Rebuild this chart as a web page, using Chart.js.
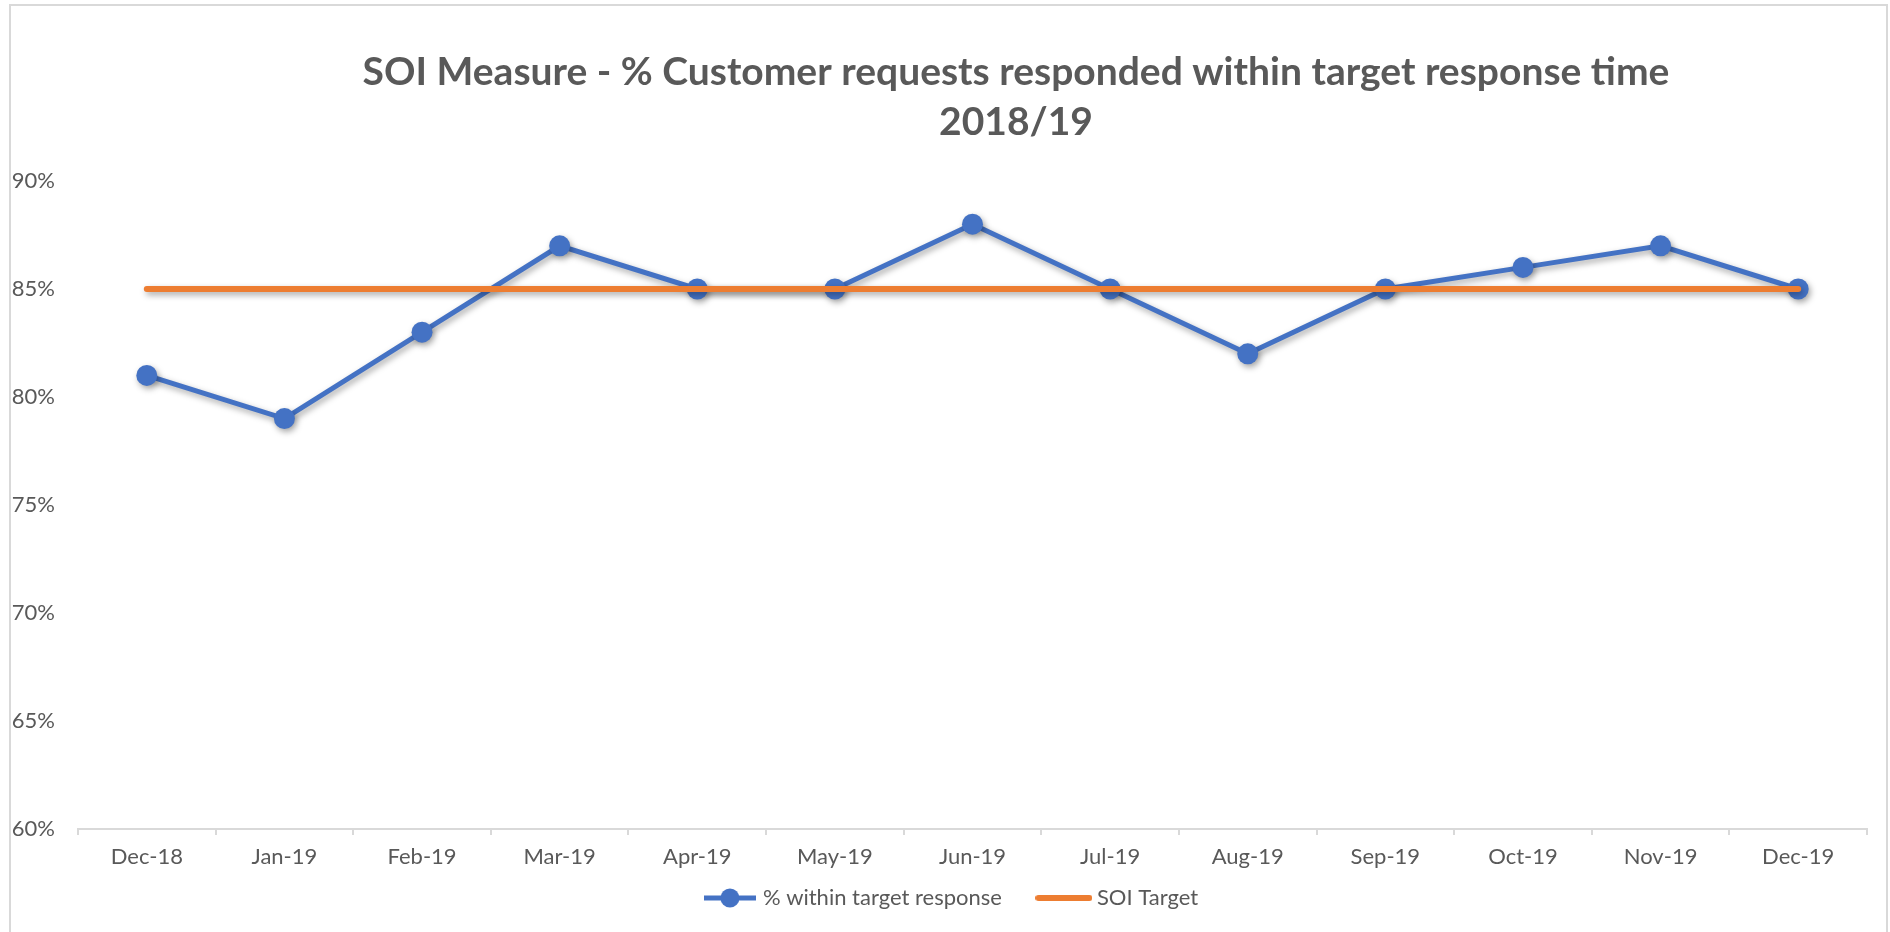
<!DOCTYPE html>
<html><head><meta charset="utf-8">
<script src="https://cdn.jsdelivr.net/npm/chart.js@4.4.0/dist/chart.umd.min.js"></script>
<style>html,body{margin:0;padding:0;background:#fff;overflow:hidden}</style>
</head><body>
<canvas id="c" width="1890" height="932"></canvas>
<script>
const categories = ['Dec-18','Jan-19','Feb-19','Mar-19','Apr-19','May-19','Jun-19','Jul-19','Aug-19','Sep-19','Oct-19','Nov-19','Dec-19'];
const withinTarget = [81,79,83,87,85,85,88,85,82,85,86,87,85];
const soiTarget = [85,85,85,85,85,85,85,85,85,85,85,85,85];
const yMin = 60, yMax = 90, yStep = 5;
const titleLines = ['SOI Measure - % Customer requests responded within target response time','2018/19'];
const seriesNames = ['% within target response','SOI Target'];

const BLUE = '#4472C4', ORANGE = '#ED7D31', TEXT = '#595959', AXIS = '#D9D9D9';
const FONT = 'Lato, Carlito, Calibri, sans-serif';

function legendImg(color, w, lw, dot) {
  const c = document.createElement('canvas');
  c.width = w; c.height = 22;
  const x = c.getContext('2d');
  x.strokeStyle = color; x.lineWidth = lw; x.lineCap = dot ? 'butt' : 'round';
  x.beginPath(); x.moveTo(dot ? 0 : lw/2, 11); x.lineTo(dot ? w : w - lw/2, 11); x.stroke();
  if (dot) { x.fillStyle = color; x.beginPath(); x.arc(w/2, 11, 9.5, 0, Math.PI*2); x.fill(); }
  return c;
}
const legendImgs = [legendImg(BLUE, 52, 5, true), legendImg(ORANGE, 57, 6, false)];

const frame = {
  id: 'frame',
  beforeDraw(chart) {
    const ctx = chart.ctx;
    ctx.save();
    ctx.fillStyle = '#fff';
    ctx.fillRect(0, 0, chart.width, chart.height);
    ctx.strokeStyle = AXIS; ctx.lineWidth = 2;
    ctx.strokeRect(10, 5, 1877, 1000);
    ctx.restore();
  },
  afterDraw(chart) {
    const ctx = chart.ctx;
    ctx.save();
    ctx.fillStyle = TEXT;
    ctx.font = 'bold 39px ' + FONT;
    ctx.textAlign = 'center'; ctx.textBaseline = 'middle';
    ctx.fillText(titleLines[0], 1016, 72);
    ctx.fillText(titleLines[1], 1016, 122);
    ctx.restore();
  }
};
const shadow = {
  id: 'shadow',
  beforeDatasetDraw(chart) {
    const ctx = chart.ctx;
    ctx.save();
    ctx.shadowColor = 'rgba(0,0,0,0.35)';
    ctx.shadowBlur = 6; ctx.shadowOffsetX = 2; ctx.shadowOffsetY = 3;
  },
  afterDatasetDraw(chart) { chart.ctx.restore(); }
};

new Chart(document.getElementById('c'), {
  type: 'line',
  data: {
    labels: categories,
    datasets: [
      { label: seriesNames[0], data: withinTarget, borderColor: BLUE, backgroundColor: BLUE,
        borderWidth: 5, pointRadius: 10.5, pointBorderWidth: 0, pointBackgroundColor: BLUE,
        tension: 0, order: 1 },
      { label: seriesNames[1], data: soiTarget, borderColor: ORANGE, backgroundColor: ORANGE,
        borderWidth: 6, pointRadius: 0, borderCapStyle: 'round', tension: 0, order: 0 }
    ]
  },
  options: {
    responsive: false, animation: false, devicePixelRatio: 1,
    layout: { padding: { top: 181, left: 39, right: 23, bottom: 13 } },
    scales: {
      x: {
        offset: true,
        grid: { display: true, offset: true, drawOnChartArea: false, drawTicks: true, tickLength: 6, color: AXIS, lineWidth: 2 },
        border: { display: true, color: AXIS, width: 2 },
        ticks: { color: TEXT, font: { family: FONT, size: 22 }, padding: 9, maxRotation: 0, autoSkip: false },
        afterFit(s) { s.height = 18; s._computeLabelArea = () => null; }
      },
      y: {
        min: yMin, max: yMax,
        grid: { display: false, drawTicks: false },
        border: { display: false },
        ticks: { stepSize: yStep, color: TEXT, font: { family: FONT, size: 22 }, padding: 23,
                 callback: v => v + '%' },
        afterFit(s) { s.width = 39; s._computeLabelArea = () => null; }
      }
    },
    plugins: {
      title: { display: false },
      tooltip: { enabled: false },
      legend: {
        position: 'bottom', align: 'center',
        labels: {
          color: TEXT, font: { family: FONT, size: 22 }, padding: 40,
          usePointStyle: true, pointStyleWidth: 44, boxHeight: 22,
          sort: (a, b) => a.datasetIndex - b.datasetIndex,
          generateLabels(chart) {
            return chart.data.datasets.map((d, i) => ({
              text: d.label, datasetIndex: i, pointStyle: legendImgs[i],
              fillStyle: d.borderColor, strokeStyle: d.borderColor, lineWidth: 0, hidden: false,
              fontColor: TEXT
            }));
          }
        }
      }
    }
  },
  plugins: [frame, shadow]
});
</script>
</body></html>
